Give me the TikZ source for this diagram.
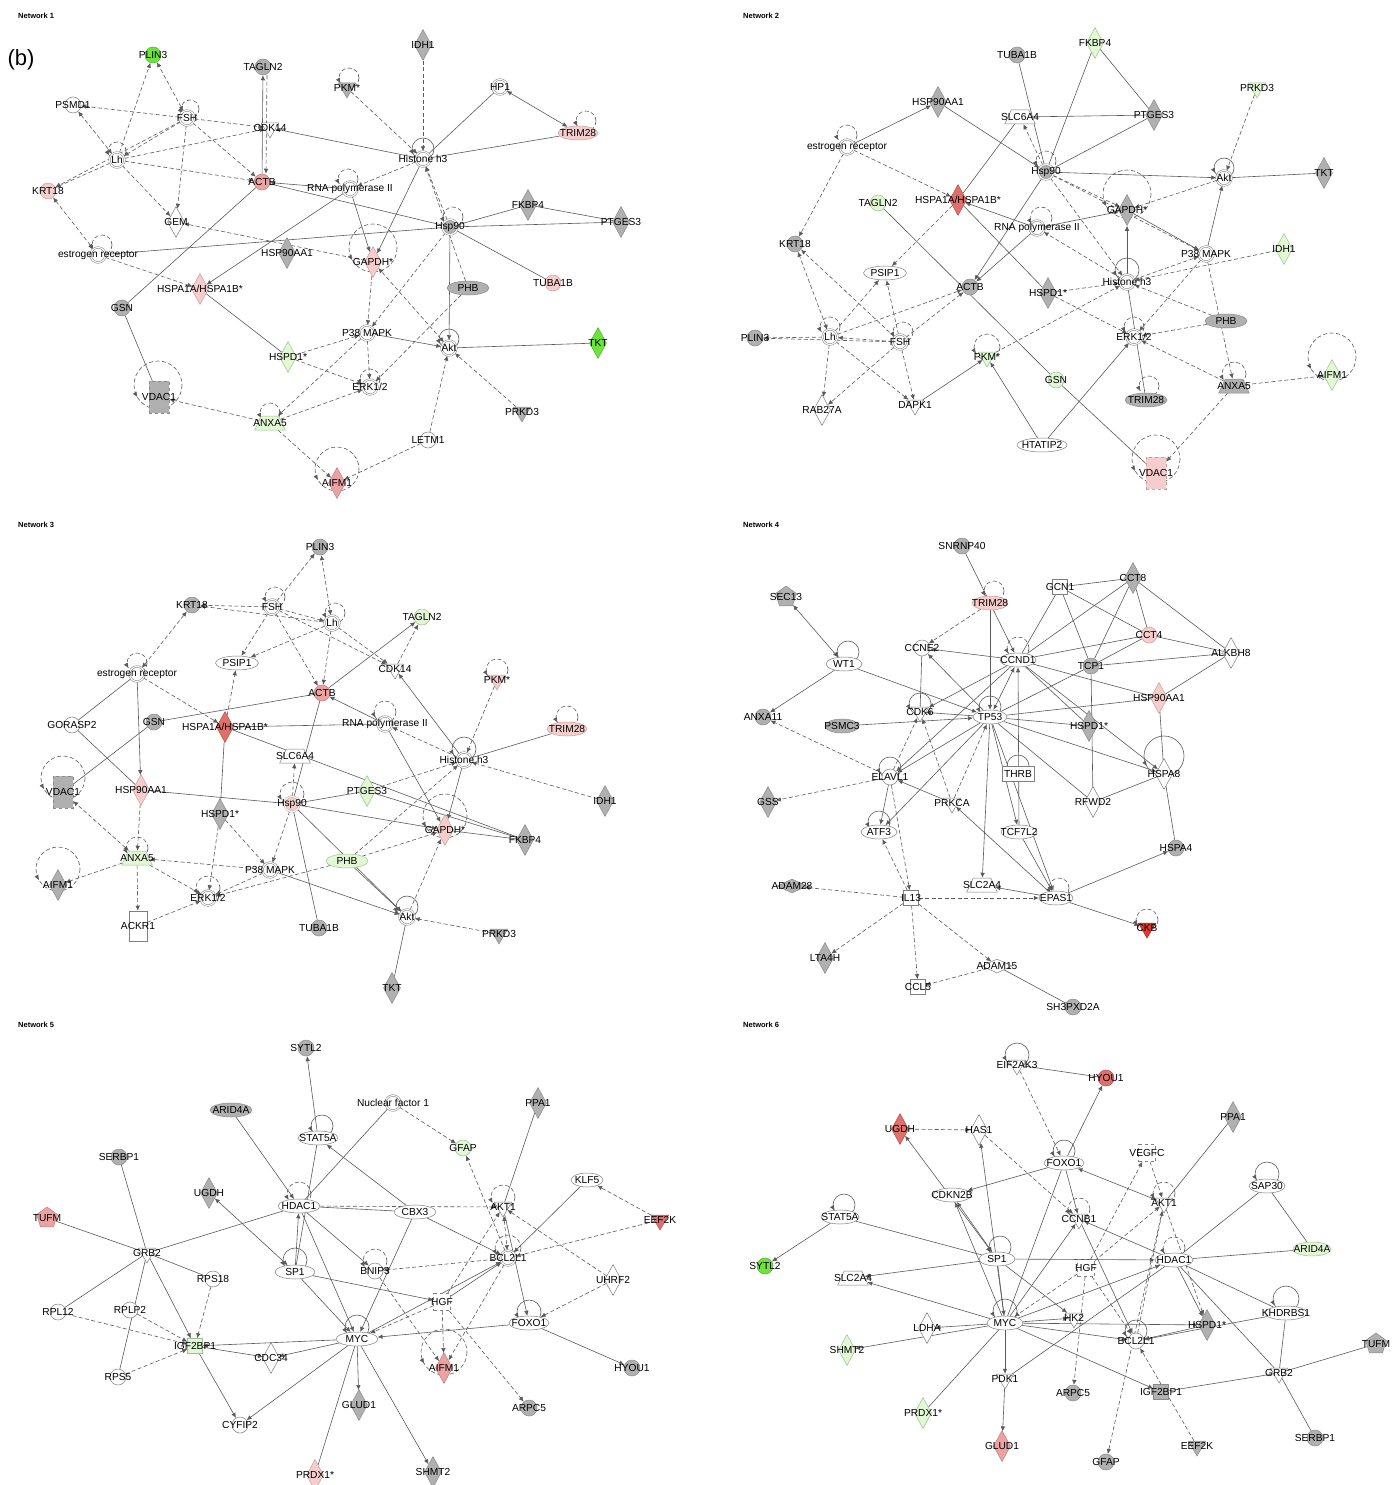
\documentclass[tikz,border=0pt]{standalone}
\usepackage{fontspec}
\setmainfont{Liberation Sans}
\usetikzlibrary{shapes.geometric,arrows.meta,calc}
\pgfdeclarelayer{bg}\pgfsetlayers{bg,main}
\definecolor{cedge}{HTML}{5A5A5A}
\definecolor{cbd}{HTML}{7F7F7F}
\definecolor{cgy}{HTML}{B0B0B0}\definecolor{cgyd}{HTML}{8A8A8A}
\definecolor{cpl}{HTML}{F5CDCD}\definecolor{cpld}{HTML}{C9A0A0}
\definecolor{cpm}{HTML}{EBA2A2}\definecolor{cpmd}{HTML}{C08080}
\definecolor{crd}{HTML}{E0706C}\definecolor{crdd}{HTML}{B05050}
\definecolor{crr}{HTML}{E23A32}\definecolor{crrd}{HTML}{B02020}
\definecolor{cgl}{HTML}{E2F7D4}\definecolor{cgld}{HTML}{9CC090}
\definecolor{cgb}{HTML}{6EE33C}\definecolor{cgbd}{HTML}{50B030}
\tikzset{
 lab/.style={inner sep=0pt,font=\fontsize{10.2}{11}\selectfont,text=black},
 ttl/.style={anchor=west,inner sep=0pt,font=\bfseries\fontsize{7.5}{8}\selectfont},
 bse/.style={inner sep=0pt,line width=0.5pt},
 sC/.style={bse,circle,minimum size=16pt},
 sD/.style={bse,circle,minimum size=15pt,double=white,double distance=1.1pt},
 sE/.style={bse,ellipse,minimum width=#1,minimum height=14pt},
 sE/.default=42pt,
 sV/.style={bse,diamond,minimum width=17pt,minimum height=31pt},
 sK/.style={bse,regular polygon,regular polygon sides=3,shape border rotate=180,minimum size=20pt},
 sT/.style={line width=0.5pt,trapezium,trapezium angle=65,inner xsep=5pt,inner ysep=4pt,minimum width=22pt,minimum height=14pt},
 sQ/.style={bse,rectangle,minimum size=15pt},
 sQd/.style={bse,rectangle,minimum size=17pt,dashed},
 sR/.style={bse,rectangle,minimum width=18pt,minimum height=30pt},
 sRd/.style={bse,rectangle,minimum width=20pt,minimum height=32pt,dashed},
 sH/.style={bse,rectangle,minimum width=32pt,minimum height=15pt},
 sP/.style={bse,diamond,minimum width=30pt,minimum height=14pt},
 sG/.style={bse,regular polygon,regular polygon sides=5,minimum size=22pt},
 fwt/.style={fill=white,draw=cbd},
 fgy/.style={fill=cgy,draw=cgyd},
 fpl/.style={fill=cpl,draw=cpld},
 fpm/.style={fill=cpm,draw=cpmd},
 frd/.style={fill=crd,draw=crdd},
 frr/.style={fill=crr,draw=crrd},
 fgl/.style={fill=cgl,draw=cgld},
 fgb/.style={fill=cgb,draw=cgbd},
 ed/.style={draw=cedge,line width=0.6pt},
 dsh/.style={dash pattern=on 4pt off 2.5pt},
 ar/.style={-{Latex[length=5pt,width=4.5pt]}},
 arb/.style={{Latex[length=5pt,width=4.5pt]}-{Latex[length=5pt,width=4.5pt]}},
}
\newcommand\nd[4][]{\node[#1,label={[lab]center:#4}] (#2) at (#3) {};}
\newcommand\En[2]{\draw[ed] (#1) -- (#2);}
\newcommand\Ea[2]{\draw[ed,ar] (#1) -- (#2);}
\newcommand\Eb[2]{\draw[ed,arb] (#1) -- (#2);}
\newcommand\Dn[2]{\draw[ed,dsh] (#1) -- (#2);}
\newcommand\Da[2]{\draw[ed,dsh,ar] (#1) -- (#2);}
\newcommand\Db[2]{\draw[ed,dsh,arb] (#1) -- (#2);}
\newcommand\Lp[5][dsh]{%
 \draw[ed,#1] ($(#2)+(#4,#5)$) circle[radius=#3];
 \draw[ed,ar] ($(#2)+(#4,#5)+({-0.866*#3-2},{0.5*#3-3.46})$) -- ($(#2)+(#4,#5)+({-0.866*#3},{0.5*#3})$);}
\begin{document}
\begin{tikzpicture}[x=1pt,y=-1pt]
\useasboundingbox (0,0) rectangle (1394,1485);
\begin{pgfonlayer}{bg}\fill[white] (0,0) rectangle (1394,1485);\end{pgfonlayer}
% titles
\node[ttl] (t1) at (18,16) {Network 1};
\node[ttl] (t2) at (743,16) {Network 2};
\node[ttl] (t3) at (18,525) {Network 3};
\node[ttl] (t4) at (743,525) {Network 4};
\node[ttl] (t5) at (18,1025) {Network 5};
\node[ttl] (t6) at (743,1025) {Network 6};
\node[inner sep=0pt,font=\fontsize{22}{24}\selectfont] (pb) at (21,60) {(b)};
% ================= Network 1
\nd[sC,fgb]{aPLIN3}{153,55}{PLIN3}
\nd[sC,fgy]{aTAGLN2}{263,67}{TAGLN2}
\nd[sK,fgy]{aPKM}{347,88}{PKM*}
\nd[sC,fwt]{aPSMD1}{73,105}{PSMD1}
\nd[sD,fwt]{aFSH}{187,118}{FSH}
\nd[sK,fwt]{aCDK14}{270,128}{CDK14}
\nd[sD,fwt]{aLh}{117,160}{Lh}
\nd[sC,fpl]{aKRT18}{48,191}{KRT18}
\nd[sC,fpm]{aACTB}{262,182}{ACTB}
\nd[sD,fwt]{aRNA}{350,189}{RNA polymerase II}
\nd[sV,fwt]{aGEM}{176,222}{GEM}
\nd[sD,fwt]{aER}{98,255}{estrogen receptor}
\nd[sV,fgy]{aHSP90AA1}{287,253}{HSP90AA1}
\nd[sV,fpl]{aGAPDH}{373,262}{GAPDH*}
\nd[sV,fpl]{aHSPA1A}{200,289}{HSPA1A/HSPA1B*}
\nd[sC,fgy]{aGSN}{122,308}{GSN}
\nd[sV,fgl]{aHSPD1}{288,357}{HSPD1*}
\nd[sRd,fgy]{aVDAC1}{159,397}{VDAC1}
\nd[sT,fgl]{aANXA5}{270,423}{ANXA5}
\nd[sV,fpm]{aAIFM1}{337,483}{AIFM1}
\nd[sV,fgy]{aIDH1}{423,45}{IDH1}
\nd[sD,fwt]{aHP1}{500,87}{HP1}
\nd[sE=40pt,fpl]{aTRIM28}{578,133}{TRIM28}
\nd[sD,fwt]{aHis}{423,159}{Histone h3}
\nd[sD,fgy]{aHsp90}{450,227}{Hsp90}
\nd[sV,fgy]{aFKBP4}{528,205}{FKBP4}
\nd[sV,fgy]{aPTGES3}{621,222}{PTGES3}
\nd[sE=42pt,fgy]{aPHB}{468,288}{PHB}
\nd[sC,fpl]{aTUBA1B}{553,283}{TUBA1B}
\nd[sD,fwt]{aP38}{367,333}{P38 MAPK}
\nd[sD,fwt]{aAkt}{449,348}{Akt}
\nd[sV,fgb]{aTKT}{598,343}{TKT}
\nd[sD,fwt]{aERK}{370,387}{ERK1/2}
\nd[sK,fgy]{aPRKD3}{522,412}{PRKD3}
\nd[sC,fwt]{aLETM1}{428,440}{LETM1}
% ================= Network 2
\nd[sC,fgy]{bTUBA1B}{1017,55}{TUBA1B}
\nd[sV,fgy]{bHSP90AA1}{938,102}{HSP90AA1}
\nd[sT,fwt]{bSLC6A4}{1020,117}{SLC6A4}
\nd[sD,fwt]{bER}{847,147}{estrogen receptor}
\nd[sD,fgy]{bHsp90}{1046,172}{Hsp90}
\nd[sC,fgl]{bTAGLN2}{878,203}{TAGLN2}
\nd[sV,frd]{bHSPA1A}{958,200}{HSPA1A/HSPA1B*}
\nd[sD,fwt]{bRNA}{1037,228}{RNA polymerase II}
\nd[sC,fgy]{bKRT18}{795,244}{KRT18}
\nd[sE=43pt,fwt]{bPSIP1}{885,273}{PSIP1}
\nd[sC,fgy]{bACTB}{970,287}{ACTB}
\nd[sV,fgy]{bHSPD1}{1048,293}{HSPD1*}
\nd[sD,fwt]{bLh}{830,337}{Lh}
\nd[sD,fwt]{bFSH}{900,342}{FSH}
\nd[sC,fgy]{bPLIN3}{755,338}{PLIN3}
\nd[sK,fgl]{bPKM}{987,357}{PKM*}
\nd[sC,fgl]{bGSN}{1056,380}{GSN}
\nd[sV,fwt]{bRAB27A}{822,410}{RAB27A}
\nd[sK,fwt]{bDAPK1}{915,405}{DAPK1}
\nd[sE=50pt,fwt]{bHTATIP2}{1042,445}{HTATIP2}
\nd[sV,fgl]{bFKBP4}{1095,43}{FKBP4}
\nd[sK,fgl]{bPRKD3}{1257,88}{PRKD3}
\nd[sV,fgy]{bPTGES3}{1154,115}{PTGES3}
\nd[sD,fwt]{bAkt}{1224,178}{Akt}
\nd[sV,fgy]{bTKT}{1324,173}{TKT}
\nd[sV,fgy]{bGAPDH}{1127,210}{GAPDH*}
\nd[sD,fwt]{bP38}{1206,254}{P38 MAPK}
\nd[sV,fgl]{bIDH1}{1284,249}{IDH1}
\nd[sD,fwt]{bHis}{1127,282}{Histone h3}
\nd[sE=42pt,fgy]{bPHB}{1226,321}{PHB}
\nd[sD,fwt]{bERK}{1134,337}{ERK1/2}
\nd[sE=42pt,fgy]{bTRIM28}{1146,400}{TRIM28}
\nd[sT,fgy]{bANXA5}{1234,386}{ANXA5}
\nd[sV,fgl]{bAIFM1}{1332,375}{AIFM1}
\nd[sRd,fpl]{bVDAC1}{1156,473}{VDAC1}
% ================= Network 3
\nd[sC,fgy]{cPLIN3}{320,547}{PLIN3}
\nd[sC,fgy]{cKRT18}{192,605}{KRT18}
\nd[sD,fwt]{cFSH}{272,607}{FSH}
\nd[sD,fwt]{cLh}{332,623}{Lh}
\nd[sC,fgl]{cTAGLN2}{422,617}{TAGLN2}
\nd[sE=43pt,fwt]{cPSIP1}{237,663}{PSIP1}
\nd[sK,fwt]{cCDK14}{395,669}{CDK14}
\nd[sK,fpl]{cPKM}{497,680}{PKM*}
\nd[sD,fwt]{cER}{137,674}{estrogen receptor}
\nd[sC,fpm]{cACTB}{322,693}{ACTB}
\nd[sD,fwt]{cRNA}{385,724}{RNA polymerase II}
\nd[sE=40pt,fpl]{cTRIM28}{567,729}{TRIM28}
\nd[sC,fwt]{cGORASP2}{72,725}{GORASP2}
\nd[sC,fgy]{cGSN}{154,722}{GSN}
\nd[sV,frd]{cHSPA1A}{225,727}{HSPA1A/HSPA1B*}
\nd[sT,fwt]{cSLC6A4}{295,756}{SLC6A4}
\nd[sD,fwt]{cHis}{464,760}{Histone h3}
\nd[sRd,fgy]{cVDAC1}{63,792}{VDAC1}
\nd[sV,fpl]{cHSP90AA1}{141,790}{HSP90AA1}
\nd[sD,fpl]{cHsp90}{292,804}{Hsp90}
\nd[sV,fgl]{cPTGES3}{367,791}{PTGES3}
\nd[sV,fgy]{cIDH1}{605,801}{IDH1}
\nd[sV,fgy]{cHSPD1}{220,814}{HSPD1*}
\nd[sV,fpl]{cGAPDH}{445,830}{GAPDH*}
\nd[sV,fgy]{cFKBP4}{525,840}{FKBP4}
\nd[sT,fgl]{cANXA5}{137,858}{ANXA5}
\nd[sE=42pt,fgl]{cPHB}{347,861}{PHB}
\nd[sD,fwt]{cP38}{270,870}{P38 MAPK}
\nd[sV,fgy]{cAIFM1}{58,885}{AIFM1}
\nd[sD,fwt]{cERK}{208,898}{ERK1/2}
\nd[sD,fwt]{cAkt}{407,917}{Akt}
\nd[sR,fwt]{cACKR1}{138,926}{ACKR1}
\nd[sC,fgy]{cTUBA1B}{319,928}{TUBA1B}
\nd[sK,fgy]{cPRKD3}{499,934}{PRKD3}
\nd[sV,fgy]{cTKT}{392,988}{TKT}
% ================= Network 4
\nd[sC,fgy]{dSNRNP40}{962,546}{SNRNP40}
\nd[sG,fgy]{dSEC13}{786,597}{SEC13}
\nd[sE=36pt,fpl]{dTRIM28}{990,603}{TRIM28}
\nd[sQ,fwt]{dGCN1}{1060,587}{GCN1}
\nd[sV,fgy]{dCCT8}{1133,578}{CCT8}
\nd[sC,fwt]{dCCNE2}{922,648}{CCNE2}
\nd[sE=36pt,fwt]{dWT1}{844,664}{WT1}
\nd[sE=36pt,fwt]{dCCND1}{1018,660}{CCND1}
\nd[sC,fpl]{dCCT4}{1149,635}{CCT4}
\nd[sV,fwt]{dALKBH8}{1231,653}{ALKBH8}
\nd[sC,fgy]{dTCP1}{1091,666}{TCP1}
\nd[sV,fpl]{dHSP90AA1}{1159,698}{HSP90AA1}
\nd[sC,fgy]{dANXA11}{763,717}{ANXA11}
\nd[sK,fwt]{dCDK6}{920,712}{CDK6}
\nd[sE=34pt,fgy]{dPSMC3}{842,726}{PSMC3}
\nd[sE=34pt,fwt]{dTP53}{990,717}{TP53}
\nd[sV,fgy]{dHSPD1}{1089,726}{HSPD1*}
\nd[sV,fwt]{dHSPA8}{1164,774}{HSPA8}
\nd[sH,fwt]{dTHRB}{1018,774}{THRB}
\nd[sC,fwt]{dELAVL1}{890,777}{ELAVL1}
\nd[sV,fgy]{dGSS}{768,802}{GSS}
\nd[sK,fwt]{dPRKCA}{952,803}{PRKCA}
\nd[sV,fwt]{dRFWD2}{1093,802}{RFWD2}
\nd[sE=36pt,fwt]{dATF3}{879,832}{ATF3}
\nd[sE=36pt,fwt]{dTCF7L2}{1019,832}{TCF7L2}
\nd[sC,fgy]{dHSPA4}{1176,848}{HSPA4}
\nd[sP,fgy]{dADAM28}{792,886}{ADAM28}
\nd[sT,fwt]{dSLC2A4}{982,885}{SLC2A4}
\nd[sQ,fwt]{dIL13}{911,898}{IL13}
\nd[sE=34pt,fwt]{dEPAS1}{1056,898}{EPAS1}
\nd[sK,frr]{dCKB}{1147,928}{CKB}
\nd[sV,fgy]{dLTA4H}{825,958}{LTA4H}
\nd[sP,fwt]{dADAM15}{997,966}{ADAM15}
\nd[sQ,fwt]{dCCL5}{918,987}{CCL5}
\nd[sC,fgy]{dSH3PXD2A}{1073,1007}{SH3PXD2A}
% ================= Network 5
\nd[sC,fgy]{eSYTL2}{306,1048}{SYTL2}
\nd[sE=42pt,fgy]{eARID4A}{231,1110}{ARID4A}
\nd[sD,fwt]{eNF1}{393,1103}{Nuclear factor 1}
\nd[sV,fgy]{ePPA1}{538,1103}{PPA1}
\nd[sE=40pt,fwt]{eSTAT5A}{318,1138}{STAT5A}
\nd[sC,fgy]{eSERBP1}{119,1157}{SERBP1}
\nd[sC,fgl]{eGFAP}{463,1148}{GFAP}
\nd[sV,fgy]{eUGDH}{209,1193}{UGDH}
\nd[sE=32pt,fwt]{eKLF5}{587,1180}{KLF5}
\nd[sE=42pt,fwt]{eHDAC1}{299,1206}{HDAC1}
\nd[sG,fpm]{eTUFM}{47,1218}{TUFM}
\nd[sE=42pt,fwt]{eCBX3}{415,1212}{CBX3}
\nd[sK,fwt]{eAKT1}{503,1207}{AKT1}
\nd[sK,frd]{eEEF2K}{660,1220}{EEF2K}
\nd[sK,fwt]{eGRB2}{147,1253}{GRB2}
\nd[sD,fwt]{eBCL2L1}{508,1258}{BCL2L1}
\nd[sE=40pt,fwt]{eSP1}{295,1272}{SP1}
\nd[sC,fwt]{eBNIP3}{375,1271}{BNIP3}
\nd[sC,fwt]{eRPS18}{213,1279}{RPS18}
\nd[sV,fwt]{eUHRF2}{613,1280}{UHRF2}
\nd[sQd,fwt]{eHGF}{442,1302}{HGF}
\nd[sC,fwt]{eRPL12}{58,1312}{RPL12}
\nd[sC,fwt]{eRPLP2}{130,1310}{RPLP2}
\nd[sE=40pt,fwt]{eFOXO1}{529,1323}{FOXO1}
\nd[sE=42pt,fwt]{eMYC}{357,1339}{MYC}
\nd[sQ,fgl]{eIGF2BP1}{195,1346}{IGF2BP1}
\nd[sV,fwt]{eCDC34}{271,1358}{CDC34}
\nd[sV,fpm]{eAIFM1}{444,1368}{AIFM1}
\nd[sC,fgy]{eHYOU1}{632,1368}{HYOU1}
\nd[sC,fwt]{eRPS5}{118,1377}{RPS5}
\nd[sV,fgy]{eGLUD1}{359,1405}{GLUD1}
\nd[sC,fgy]{eARPC5}{529,1408}{ARPC5}
\nd[sC,fwt]{eCYFIP2}{240,1425}{CYFIP2}
\nd[sV,fpl]{ePRDX1}{315,1475}{PRDX1*}
\nd[sV,fgy]{eSHMT2}{433,1472}{SHMT2}
% ================= Network 6
\nd[sK,fwt]{fEIF2AK3}{1017,1065}{EIF2AK3}
\nd[sC,frd]{fHYOU1}{1106,1078}{HYOU1}
\nd[sV,frd]{fUGDH}{900,1129}{UGDH}
\nd[sV,fwt]{fHAS1}{979,1130}{HAS1}
\nd[sV,fgy]{fPPA1}{1233,1117}{PPA1}
\nd[sQd,fwt]{fVEGFC}{1147,1153}{VEGFC}
\nd[sE=40pt,fwt]{fFOXO1}{1064,1163}{FOXO1}
\nd[sE=36pt,fwt]{fSAP30}{1267,1186}{SAP30}
\nd[sK,fwt]{fAKT1}{1164,1203}{AKT1}
\nd[sE=38pt,fwt]{fCDKN2B}{952,1195}{CDKN2B}
\nd[sE=38pt,fwt]{fSTAT5A}{840,1217}{STAT5A}
\nd[sK,fwt]{fCCNB1}{1079,1219}{CCNB1}
\nd[sE=38pt,fgl]{fARID4A}{1312,1249}{ARID4A}
\nd[sE=36pt,fwt]{fSP1}{997,1259}{SP1}
\nd[sE=38pt,fwt]{fHDAC1}{1174,1260}{HDAC1}
\nd[sC,fgb]{fSYTL2}{765,1266}{SYTL2}
\nd[sQd,fwt]{fHGF}{1086,1268}{HGF}
\nd[sT,fwt]{fSLC2A4}{853,1278}{SLC2A4}
\nd[sE=42pt,fwt]{fKHDRBS1}{1286,1313}{KHDRBS1}
\nd[sE=36pt,fwt]{fMYC}{1005,1323}{MYC}
\nd[sV,fwt]{fLDHA}{927,1328}{LDHA}
\nd[sK,fwt]{fHK2}{1074,1318}{HK2}
\nd[sV,fgy]{fHSPD1}{1207,1325}{HSPD1*}
\nd[sC,fwt]{fBCL2L1}{1136,1341}{BCL2L1}
\nd[sG,fgy]{fTUFM}{1376,1344}{TUFM}
\nd[sV,fgl]{fSHMT2}{847,1350}{SHMT2}
\nd[sK,fwt]{fGRB2}{1279,1373}{GRB2}
\nd[sK,fwt]{fPDK1}{1005,1379}{PDK1}
\nd[sQ,fgy]{fIGF2BP1}{1161,1392}{IGF2BP1}
\nd[sC,fgy]{fARPC5}{1073,1393}{ARPC5}
\nd[sV,fgl]{fPRDX1}{923,1413}{PRDX1*}
\nd[sC,fgy]{fSERBP1}{1315,1438}{SERBP1}
\nd[sV,fpm]{fGLUD1}{1002,1446}{GLUD1}
\nd[sK,fgy]{fEEF2K}{1197,1446}{EEF2K}
\nd[sC,fgy]{fGFAP}{1106,1462}{GFAP}
\begin{pgfonlayer}{bg}
% ---- Network 1 edges
\Da{aLh}{aPLIN3}\Db{aFSH}{aPLIN3}\Da{aFSH}{aPSMD1}\Db{aPSMD1}{aLh}
\Da{aFSH}{aLh}\Da{aFSH}{aCDK14}\Da{aLh}{aCDK14}\Da{aLh}{aKRT18}\Da{aFSH}{aKRT18}
\Da{aLh}{aACTB}\Da{aFSH}{aACTB}\Da{aLh}{aGEM}\Da{aFSH}{aGEM}
\Ea{aACTB}{aTAGLN2}
\draw[ed,dsh,ar] ([xshift=4pt]aTAGLN2.south) -- ([xshift=4pt]aACTB.north);
\Ea{aHis}{aCDK14}\Db{aKRT18}{aER}\Da{aGAPDH}{aGEM}\En{aER}{aHsp90}\Da{aER}{aHSPA1A}
\En{aACTB}{aGSN}\En{aGSN}{aVDAC1}\Ea{aRNA}{aHSPA1A}\Ea{aRNA}{aACTB}\En{aACTB}{aHsp90}
\En{aHSPA1A}{aHSPD1}\Da{aHSPD1}{aP38}\Da{aHSPD1}{aERK}\Da{aANXA5}{aVDAC1}\Da{aANXA5}{aAIFM1}
\Da{aP38}{aANXA5}\Da{aANXA5}{aERK}\Da{aIDH1}{aHis}\Da{aPKM}{aHis}\En{aHP1}{aHis}
\Eb{aHP1}{aTRIM28}\En{aTRIM28}{aHis}\Da{aHis}{aRNA}\Ea{aHis}{aGAPDH}\Da{aHsp90}{aHis}
\Da{aPHB}{aHis}\En{aHsp90}{aFKBP4}\En{aHsp90}{aPTGES3}\En{aFKBP4}{aPTGES3}\En{aHsp90}{aTUBA1B}
\Ea{aHsp90}{aAkt}\Da{aHsp90}{aP38}\Ea{aRNA}{aGAPDH}\Da{aGAPDH}{aP38}\Db{aAkt}{aGAPDH}
\Da{aPHB}{aERK}\Ea{aP38}{aAkt}\Da{aP38}{aERK}\En{aAkt}{aTKT}\Da{aPRKD3}{aAkt}
\Da{aLETM1}{aAkt}\Da{aLETM1}{aAIFM1}
\Lp{aFSH}{9}{3}{-9}\Lp{aLh}{9}{0}{-9}\Lp{aPKM}{10}{2}{-10}\Lp{aRNA}{10}{-2}{-10}
\Lp{aER}{10}{4}{-10}\Lp{aGAPDH}{24}{0}{-14}\Lp{aVDAC1}{24}{-1}{-12}\Lp{aANXA5}{10}{0}{-10}
\Lp{aAIFM1}{22}{0}{-14}\Lp{aTRIM28}{10}{8}{-12}\Lp[solid]{aHis}{11}{0}{-10}\Lp{aHsp90}{10}{3}{-10}
\Lp[solid]{aAkt}{10}{0}{-9}\Lp{aERK}{10}{0}{-8}
% ---- Network 2 edges
\Ea{bER}{bHSP90AA1}\Ea{bHSP90AA1}{bHsp90}\Da{bER}{bHSPA1A}\Da{bER}{bKRT18}
\En{bTUBA1B}{bHsp90}\En{bSLC6A4}{bPTGES3}\En{bSLC6A4}{bHSPA1A}\Da{bHsp90}{bSLC6A4}
\En{bFKBP4}{bHsp90}\En{bFKBP4}{bPTGES3}\En{bPTGES3}{bHsp90}\Ea{bHsp90}{bAkt}
\Da{bHsp90}{bGAPDH}\Ea{bHsp90}{bACTB}\Da{bHsp90}{bHis}\Da{bHsp90}{bP38}
\Ea{bRNA}{bHSPA1A}\Da{bHSPA1A}{bPSIP1}\En{bHSPA1A}{bHSPD1}\Da{bHSPD1}{bERK}\Da{bHSPD1}{bHis}
\Ea{bRNA}{bACTB}\Ea{bRNA}{bGAPDH}\Da{bHis}{bRNA}\Ea{bHis}{bGAPDH}\Ea{bGAPDH}{bP38}
\Da{bAkt}{bGAPDH}\Ea{bP38}{bAkt}\Da{bPRKD3}{bAkt}\En{bAkt}{bTKT}\Da{bIDH1}{bHis}
\Da{bHis}{bP38}\Da{bPHB}{bHis}\Da{bPHB}{bERK}\Da{bP38}{bERK}\Da{bP38}{bANXA5}
\Da{bANXA5}{bERK}\Da{bANXA5}{bAIFM1}\Da{bANXA5}{bVDAC1}\En{bHis}{bTRIM28}\En{bGSN}{bVDAC1}
\Ea{bHTATIP2}{bERK}\Ea{bHTATIP2}{bPKM}\Ea{bDAPK1}{bPKM}\Da{bPKM}{bHis}\En{bTAGLN2}{bGSN}
\Da{bLh}{bPLIN3}\Da{bFSH}{bPLIN3}\Db{bLh}{bKRT18}\Da{bFSH}{bKRT18}\Da{bLh}{bPSIP1}
\Da{bFSH}{bPSIP1}\Da{bLh}{bACTB}\Da{bFSH}{bACTB}\Da{bFSH}{bLh}\Da{bLh}{bRAB27A}
\Da{bFSH}{bRAB27A}\Da{bLh}{bDAPK1}\Da{bFSH}{bDAPK1}
\Lp{bER}{10}{0}{-12}\Lp{bHsp90}{10}{0}{-11}\Lp{bRNA}{11}{4}{-10}\Lp{bLh}{10}{0}{-10}
\Lp{bFSH}{10}{3}{-10}\Lp{bPKM}{13}{0}{-10}\Lp[solid]{bAkt}{10}{0}{-10}\Lp{bGAPDH}{24}{0}{-16}
\Lp[solid]{bHis}{12}{0}{-12}\Lp{bERK}{10}{0}{-10}\Lp{bTRIM28}{10}{3}{-14}\Lp{bANXA5}{12}{0}{-12}
\Lp{bAIFM1}{24}{0}{-18}\Lp{bVDAC1}{24}{0}{-14}
% ---- Network 3 edges
\Da{cFSH}{cPLIN3}\Db{cLh}{cPLIN3}\Da{cFSH}{cKRT18}\Da{cLh}{cKRT18}\Da{cFSH}{cLh}
\Da{cFSH}{cPSIP1}\Da{cLh}{cPSIP1}\Da{cFSH}{cACTB}\Da{cLh}{cACTB}\Da{cFSH}{cCDK14}
\Da{cLh}{cCDK14}\Db{cER}{cKRT18}\En{cER}{cGORASP2}\Ea{cER}{cHSP90AA1}\Da{cER}{cHSPA1A}
\En{cGORASP2}{cHSP90AA1}\En{cHSP90AA1}{cHsp90}\En{cGSN}{cACTB}\En{cGSN}{cVDAC1}
\Da{cHSPA1A}{cPSIP1}\En{cHSPA1A}{cRNA}\En{cHSPA1A}{cHSPD1}\En{cHSPA1A}{cFKBP4}
\En{cACTB}{cHsp90}\Ea{cRNA}{cACTB}\Ea{cACTB}{cTAGLN2}\Da{cCDK14}{cTAGLN2}\Ea{cHis}{cCDK14}
\Da{cHsp90}{cSLC6A4}\En{cHsp90}{cPTGES3}\Ea{cHsp90}{cGAPDH}\Da{cHsp90}{cP38}
\En{cHsp90}{cTUBA1B}\Ea{cHsp90}{cAkt}\Ea{cP38}{cAkt}\Da{cPHB}{cHis}\Da{cPHB}{cGAPDH}
\Da{cPHB}{cERK}\Ea{cPHB}{cAkt}\Da{cPTGES3}{cHis}\En{cPTGES3}{cFKBP4}\Ea{cRNA}{cGAPDH}
\Da{cHis}{cRNA}\Ea{cHis}{cGAPDH}\Da{cPKM}{cHis}\En{cTRIM28}{cHis}\Da{cIDH1}{cHis}
\Da{cAkt}{cGAPDH}\Da{cPRKD3}{cAkt}\En{cAkt}{cTKT}\Da{cHSPD1}{cP38}\Da{cHSPD1}{cERK}
\Da{cHSP90AA1}{cANXA5}\Db{cANXA5}{cVDAC1}\Da{cANXA5}{cAIFM1}\Da{cANXA5}{cACKR1}
\Da{cANXA5}{cERK}\Da{cP38}{cANXA5}\Da{cACKR1}{cERK}\Da{cP38}{cERK}\En{cGAPDH}{cFKBP4}
\Lp{cFSH}{10}{3}{-10}\Lp{cLh}{10}{3}{-10}\Lp{cPKM}{11}{0}{-10}\Lp{cER}{10}{0}{-11}
\Lp{cRNA}{11}{0}{-12}\Lp{cTRIM28}{11}{0}{-12}\Lp[solid]{cHis}{12}{0}{-11}\Lp{cVDAC1}{22}{0}{-14}
\Lp{cHsp90}{12}{0}{-10}\Lp{cGAPDH}{22}{0}{-14}\Lp{cANXA5}{11}{0}{-10}\Lp{cAIFM1}{22}{0}{-16}
\Lp{cERK}{12}{0}{-10}\Lp[solid]{cAkt}{11}{0}{-10}
% ---- Network 4 edges
\Ea{dSNRNP40}{dCCND1}\Eb{dSEC13}{dWT1}\Da{dTRIM28}{dCCNE2}\Ea{dTRIM28}{dTP53}
\Ea{dWT1}{dANXA11}\Ea{dWT1}{dTP53}\Ea{dCCND1}{dCCNE2}\En{dCCNE2}{dCDK6}\Ea{dTP53}{dCCNE2}
\Ea{dCCND1}{dCDK6}\Ea{dTP53}{dCDK6}\Ea{dPSMC3}{dTP53}\Eb{dCCND1}{dTP53}
\En{dGCN1}{dCCND1}\En{dGCN1}{dCCT8}\En{dGCN1}{dTCP1}\En{dGCN1}{dCCT4}
\En{dCCT8}{dCCND1}\En{dCCT8}{dTCP1}\En{dCCT8}{dCCT4}\En{dCCT8}{dALKBH8}
\En{dCCT4}{dCCND1}\En{dCCT4}{dTCP1}\En{dCCT4}{dALKBH8}\En{dTCP1}{dALKBH8}
\En{dTCP1}{dTP53}\En{dTCP1}{dRFWD2}\En{dHSP90AA1}{dALKBH8}\En{dHSP90AA1}{dCCND1}
\En{dHSP90AA1}{dTP53}\En{dHSP90AA1}{dHSPA8}\En{dHSPD1}{dTP53}\En{dHSPD1}{dCCND1}
\Ea{dCCND1}{dHSPA8}\Ea{dTP53}{dHSPA8}\En{dTP53}{dRFWD2}\En{dRFWD2}{dHSPA8}
\En{dHSPA8}{dHSPA4}\Ea{dEPAS1}{dHSPA4}\Ea{dEPAS1}{dCKB}\Ea{dTCF7L2}{dCCND1}
\Ea{dTP53}{dTCF7L2}\Ea{dTP53}{dSLC2A4}\Ea{dTP53}{dELAVL1}\Ea{dCCND1}{dELAVL1}
\Ea{dTP53}{dATF3}\Da{dELAVL1}{dCDK6}\Da{dPRKCA}{dCDK6}\Da{dPRKCA}{dTP53}
\Ea{dEPAS1}{dPRKCA}\Ea{dPRKCA}{dELAVL1}\Ea{dTCF7L2}{dEPAS1}\Ea{dTP53}{dEPAS1}
\Ea{dEPAS1}{dSLC2A4}\Da{dELAVL1}{dANXA11}\Da{dELAVL1}{dGSS}\Ea{dELAVL1}{dATF3}
\Da{dELAVL1}{dIL13}\Da{dIL13}{dATF3}\Da{dIL13}{dADAM28}\Da{dIL13}{dEPAS1}
\Da{dIL13}{dLTA4H}\Da{dIL13}{dCCL5}\Da{dIL13}{dADAM15}\Da{dADAM15}{dCCL5}
\En{dADAM15}{dSH3PXD2A}
\Lp{dTRIM28}{10}{4}{-12}\Lp[solid]{dWT1}{11}{4}{-12}\Lp{dCCND1}{11}{0}{-12}
\Lp[solid]{dCDK6}{11}{0}{-8}\Lp[solid]{dTP53}{11}{0}{-10}\Lp[solid]{dHSPA8}{20}{0}{-18}
\Lp[solid]{dTHRB}{11}{0}{-8}\Lp[solid]{dELAVL1}{11}{0}{-9}\Lp[solid]{dATF3}{11}{0}{-10}
\Lp{dEPAS1}{10}{3}{-10}\Lp{dCKB}{11}{0}{-8}
% ---- Network 5 edges
\Ea{eSTAT5A}{eSYTL2}\En{eSP1}{eSTAT5A}\Ea{eARID4A}{eHDAC1}\En{eNF1}{eHDAC1}
\Da{eNF1}{eGFAP}\Ea{eCBX3}{eSTAT5A}\Da{eHDAC1}{eAKT1}\En{eHDAC1}{eCBX3}\En{eHDAC1}{eGRB2}
\Eb{eUGDH}{eSP1}\Ea{eSP1}{eHDAC1}\Ea{eHDAC1}{eMYC}\Ea{eHDAC1}{eBNIP3}\Ea{eSP1}{eMYC}
\Ea{eSP1}{eHGF}\En{eSERBP1}{eGRB2}\En{eTUFM}{eGRB2}\En{eGRB2}{eRPS18}\En{eGRB2}{eRPL12}
\En{eGRB2}{eRPS5}\Ea{eGRB2}{eIGF2BP1}\Da{eRPS18}{eIGF2BP1}\Da{eRPL12}{eIGF2BP1}
\Da{eRPLP2}{eIGF2BP1}\Da{eRPS5}{eIGF2BP1}\Ea{eMYC}{eIGF2BP1}\Ea{eIGF2BP1}{eCDC34}
\Ea{eMYC}{eCDC34}\Ea{eIGF2BP1}{eCYFIP2}\Ea{eMYC}{eCYFIP2}\En{eMYC}{ePRDX1}
\Ea{eMYC}{eGLUD1}\Ea{eMYC}{eSHMT2}\Ea{eCBX3}{eMYC}\Ea{eCBX3}{eBCL2L1}\En{ePPA1}{eAKT1}
\Da{eBCL2L1}{eGFAP}\Ea{eKLF5}{eBCL2L1}\Da{eEEF2K}{eKLF5}\Da{eEEF2K}{eBCL2L1}
\Da{eUHRF2}{eAKT1}\Da{eUHRF2}{eFOXO1}\Ea{eAKT1}{eFOXO1}\Da{eBCL2L1}{eBNIP3}
\Da{eHGF}{eAKT1}\Ea{eHGF}{eBCL2L1}\Ea{eMYC}{eBCL2L1}\Da{eHGF}{eMYC}\Da{eHGF}{eAIFM1}
\Da{eBCL2L1}{eAIFM1}\Da{eBNIP3}{eAIFM1}\Da{eHGF}{eARPC5}\Ea{eFOXO1}{eMYC}
\Ea{eFOXO1}{eHYOU1}\Db{eAKT1}{eBCL2L1}
\Lp[solid]{eSTAT5A}{11}{4}{-12}\Lp{eHDAC1}{12}{0}{-12}\Lp{eAKT1}{12}{0}{-10}
\Lp{eBCL2L1}{13}{0}{-10}\Lp[solid]{eSP1}{12}{0}{-12}\Lp{eBNIP3}{12}{0}{-10}
\Lp[solid]{eFOXO1}{12}{0}{-11}\Lp[solid]{eMYC}{12}{0}{-12}\Lp{eAIFM1}{23}{0}{-16}
% ---- Network 6 edges
\En{fEIF2AK3}{fHYOU1}\Da{fEIF2AK3}{fFOXO1}\Da{fUGDH}{fHAS1}\Da{fHAS1}{fCCNB1}
\Ea{fSP1}{fUGDH}\Ea{fMYC}{fHAS1}\Ea{fFOXO1}{fCDKN2B}\Ea{fFOXO1}{fHYOU1}\Eb{fFOXO1}{fAKT1}
\Ea{fFOXO1}{fCCNB1}\En{fFOXO1}{fMYC}\Eb{fCDKN2B}{fSP1}\Ea{fMYC}{fCDKN2B}
\Ea{fSTAT5A}{fSYTL2}\En{fSTAT5A}{fSP1}\Ea{fSP1}{fSLC2A4}\Ea{fMYC}{fSLC2A4}\Ea{fSP1}{fHDAC1}
\Ea{fMYC}{fLDHA}\Ea{fMYC}{fSHMT2}\En{fMYC}{fPRDX1}\Ea{fMYC}{fPDK1}\Ea{fPDK1}{fGLUD1}
\Ea{fMYC}{fHK2}\Ea{fMYC}{fBCL2L1}\Ea{fMYC}{fIGF2BP1}\Ea{fMYC}{fHSPD1}\Ea{fMYC}{fCCNB1}
\Ea{fMYC}{fHDAC1}\Ea{fSP1}{fHK2}\Ea{fSP1}{fMYC}\Da{fVEGFC}{fAKT1}\Da{fHGF}{fVEGFC}
\Da{fHGF}{fAKT1}\Da{fHGF}{fARPC5}\Da{fHGF}{fBCL2L1}\Da{fHGF}{fMYC}\En{fPPA1}{fAKT1}
\Da{fAKT1}{fGFAP}\Ea{fHDAC1}{fHSPD1}\Da{fAKT1}{fHSPD1}\Ea{fHDAC1}{fCCNB1}
\En{fHDAC1}{fSAP30}\En{fSAP30}{fARID4A}\En{fHDAC1}{fARID4A}\En{fHDAC1}{fKHDRBS1}
\En{fHDAC1}{fGRB2}\En{fPDK1}{fHDAC1}\Ea{fKHDRBS1}{fBCL2L1}\En{fKHDRBS1}{fGRB2}
\En{fGRB2}{fTUFM}\En{fGRB2}{fSERBP1}\En{fGRB2}{fIGF2BP1}\Ea{fCCNB1}{fBCL2L1}
\Da{fEEF2K}{fBCL2L1}\Ea{fHSPD1}{fBCL2L1}\Da{fBCL2L1}{fAKT1}
\Lp[solid]{fEIF2AK3}{12}{0}{-10}\Lp[solid]{fFOXO1}{11}{0}{-12}\Lp[solid]{fSAP30}{12}{0}{-12}
\Lp{fAKT1}{11}{0}{-10}\Lp[solid]{fSTAT5A}{11}{4}{-12}\Lp{fCCNB1}{11}{0}{-10}
\Lp[solid]{fSP1}{11}{3}{-12}\Lp{fHDAC1}{11}{0}{-12}\Lp[solid]{fKHDRBS1}{13}{0}{-14}
\Lp[solid]{fMYC}{12}{0}{-12}\Lp[solid]{fBCL2L1}{11}{0}{-10}
\end{pgfonlayer}
\end{tikzpicture}
\end{document}
